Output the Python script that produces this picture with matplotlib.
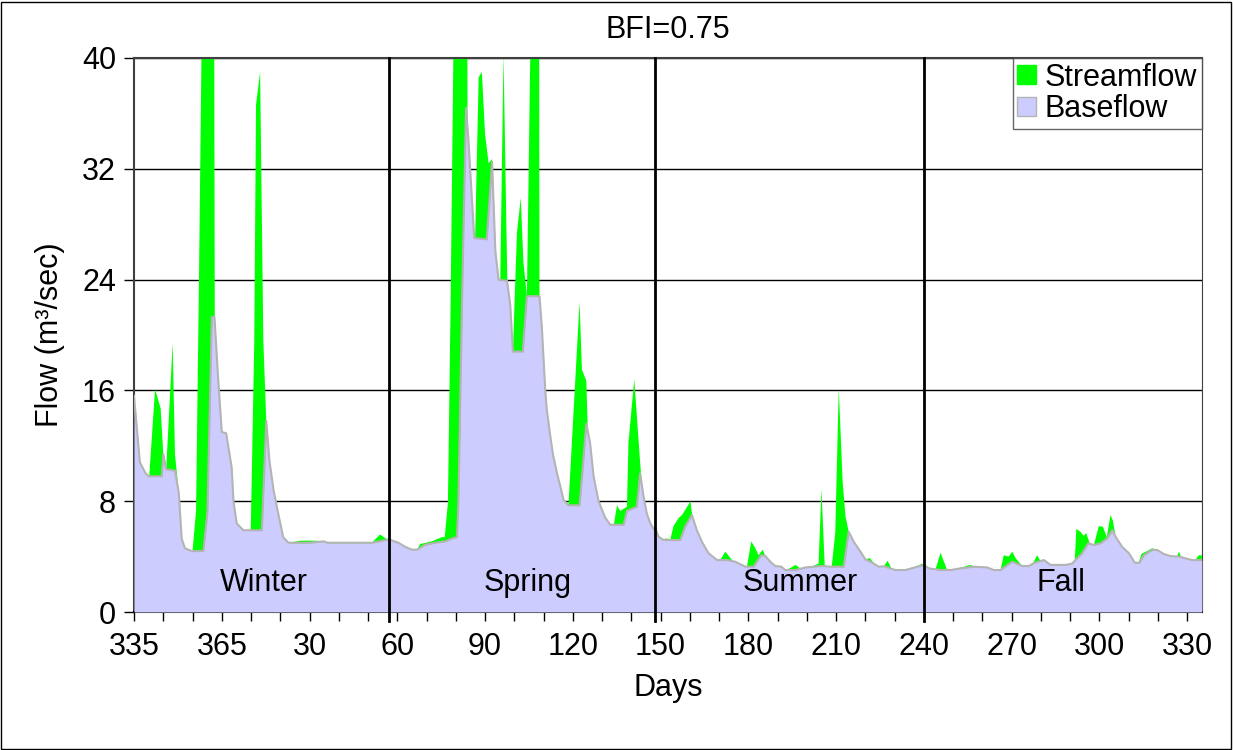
import matplotlib
matplotlib.use("Agg")
import matplotlib.pyplot as plt
from matplotlib.patches import Patch, Rectangle

plt.rcParams['font.family'] = ['Liberation Sans', 'DejaVu Sans']

# day index counted from day 335 of the previous year (0 = day 335)
base_day = [0, 2, 4, 5, 9.5, 10, 11, 14, 15.3, 16.3, 17.4, 19.7, 23.7, 25.1, 26.6, 27.5, 28.8, 30,
            31.5, 33.4, 34, 35.1, 37.4, 43.7, 45.2, 46.3, 47.7, 49.4, 51, 52.8, 60, 65, 66, 81.3, 84, 87,
            90.4, 92.7, 95, 96.7, 99.5, 103, 106.4, 108.6, 110.4, 110.9, 112.1, 113.5, 114.3, 116.3,
            120.6, 122.4, 123.5, 124.6, 127.5, 128.6, 129.5, 132.9, 134.3, 138.6, 139.4, 140.6, 141.1,
            142.3, 143.2, 144.6, 145.7, 146.8, 148.5, 152.3, 153.7, 154.6, 155.9, 157.1, 158.8, 161.1,
            162.8, 167.4, 168.5, 171.9, 173, 174.2, 175.3, 176.5, 177.6,
            178.2, 179.3, 181, 186.7, 188.4, 190.7, 192.4, 194.1, 196.4, 199.3, 202.7, 205.5, 209,
            211.8, 214.4, 215.8, 217.5, 219.2, 221.3, 222.6, 226.1, 229.5, 235.2, 238, 242.6, 244.3,
            246, 248.3, 250, 251.7, 254.6, 256.3, 260.3, 263.7, 267.7, 270,
            271.7, 275.7, 279.1, 282.5, 287.1, 291.6, 293.9, 296.2, 300.2, 303.6, 305.9, 308, 311,
            313.3, 318.4, 320.7, 321.8, 324.1, 326.2, 328.1, 330.4, 332.7, 334.4, 335.5, 337.8, 340.1,
            342.1, 343.7, 345.2, 348, 349.8, 352, 354.3, 357.2, 359.5, 361.7, 365]
base_flow = [15.6, 10.8, 10.0, 9.8, 9.8, 11.4, 10.3, 10.2, 8.6, 5.3, 4.6, 4.4, 4.4, 7.2, 21.3, 21.3, 16.7, 13.0,
             12.9, 10.4, 8.0, 6.4, 5.9, 5.9, 13.8, 10.9, 8.8, 7.0, 5.4, 5.0, 5.0, 5.1, 5.0, 5.0, 5.1, 5.25,
             5.0, 4.7, 4.5, 4.5, 4.85, 5.0, 5.1, 5.3, 5.4, 7.9, 22.2, 36.4, 34.1, 27.0,
             26.9, 32.5, 26.1, 24.0, 23.9, 22.2, 18.8, 18.8, 22.8, 22.8, 20.6, 15.9, 14.6,
             12.7, 11.4, 10.0, 9.1, 8.1, 7.7, 7.7, 11.2, 13.6, 12.2, 9.8, 8.0, 6.8,
             6.3, 6.3, 7.3, 7.6, 10.0, 8.3, 7.1, 6.4, 6.0,
             6.04, 5.44, 5.2, 5.2, 6.16, 7.0, 5.9, 5.08, 4.24, 3.75, 3.75, 3.63, 3.27,
             3.27, 4.1, 4.04, 3.63, 3.32, 3.27, 3.03, 3.03, 3.22, 3.32, 3.27, 3.27, 5.8,
             5.08, 4.36, 3.8, 3.63, 3.27, 3.3, 3.03, 3.03, 3.27, 3.39,
             3.15, 3.03, 3.03, 3.15, 3.27, 3.22, 3.03, 3.03, 3.63, 3.32, 3.32, 3.56, 3.75,
             3.4, 3.4, 3.5, 3.75, 4.24, 4.96, 4.84, 4.96, 5.32, 5.92, 5.44, 4.7, 4.24,
             3.56, 3.56, 4.1, 4.48, 4.48, 4.19, 4.04, 4.0, 3.87, 3.75, 3.75]

stream_day = [0, 2, 4, 5.2, 7.2, 9.1, 10, 11, 13.2, 14, 15.3, 16.3, 17.4, 20, 21.2, 22.2, 23.1, 24, 27, 27.6,
              28.8, 30, 31.5, 33.4, 34, 35.1, 37.4, 39.9, 41.1, 41.7, 43.1, 44.2, 45.2, 46.3, 47.7, 49.4,
              51, 52.8, 57, 62, 65, 66, 81.3, 84.1, 86.5,
              90.4, 92.7, 95, 96.7, 97.8, 101.8, 105.2, 106.2, 107.3, 108.2, 109.2, 110, 113.5, 114.0,
              114.3, 116.3, 116.6, 117.8, 118.9, 120.0, 121.2, 122.3, 123.5, 124.6, 125.2, 126.3, 127.6,
              128.6, 129.5, 130.9, 132.2, 133.1, 134.3, 135.5, 136, 138.2, 138.6, 139.4, 140.6, 141.1,
              142.3, 143.2, 144.6, 145.7, 146.8, 148.5, 152.3, 153.1, 154.6, 155.1, 155.9, 157.1, 158.8,
              161.1, 162.8, 164, 165.1, 166.2, 168.5, 169, 171, 173, 173.3, 174.2, 175.3, 176.5, 177.6,
              178.2, 179.3, 181, 181.4, 182.6, 183.3, 184.4, 186.2, 187.3, 188.8, 190.2, 190.8, 192.4,
              194.1, 196.4, 199.3, 200.4, 202.1, 204.6, 205.5, 209, 209.5, 211, 212.4, 213.5, 214.9,
              215.8, 217.5, 219.2, 221.3, 222.6, 223.2, 226.1, 228.1, 229.5, 232, 234, 235, 236.1, 237,
              238.5, 239.7, 240.9, 242.2, 243.2, 244.3, 246, 248.3, 250, 251.5, 252.5, 254.6, 256.3,
              257.6, 259, 260.3, 263.7, 267.7, 269.4, 271.7,
              274, 275.7, 277.9, 279.1, 282.5, 285.9, 287.1, 291.6, 293.9, 296.2, 297.3, 299, 300.2,
              301.3, 303.6, 305.9, 307.5, 308.7, 309.8, 311, 313.3, 318.4, 320.7, 321.6, 322.1, 323.5,
              324.6, 325.5, 326.6, 328.1, 329.8, 331.2, 332.5, 333.8, 334.6, 335.6, 337.8, 340.1, 342.1,
              343.5, 344.4, 346.3, 348, 349.8, 351.5, 354.3, 356.5, 357.2, 358, 359.5, 361.7, 362.7,
              364, 365]
stream_flow = [15.6, 10.8, 10.0, 9.8, 16.1, 14.7, 11.4, 10.3, 19.4, 11.4, 8.6, 5.3, 4.6, 4.4, 7.3, 24, 41, 80, 90, 21.3,
               16.7, 13.0, 12.9, 10.4, 8.0, 6.4, 5.9, 5.9, 19.5, 36.6, 39.0, 19.6, 13.8, 10.9, 8.8, 7.0,
               5.4, 5.0, 5.15, 5.15, 5.1, 5.0, 5.0, 5.6, 5.25,
               5.0, 4.7, 4.5, 4.5, 4.9, 5.1, 5.4, 5.4, 7.9, 22, 41, 90, 90, 36.0,
               34.1, 27.0, 27.0, 38.6, 39.0, 34.5, 32.4, 32.7, 26.1, 24.0, 24.0, 40.3, 23.9,
               22.2, 18.8, 27.4, 29.9, 25.3, 22.8, 41, 90, 90, 22.8, 20.6, 15.9, 14.6,
               12.7, 11.4, 10.0, 9.1, 8.1, 7.7, 22.4, 17.5, 16.7, 13.3, 12.2, 9.8, 8.0,
               6.8, 6.3, 6.3, 7.7, 7.3, 7.6, 12.2, 16.8, 10.8, 10.0, 8.3, 7.1, 6.4, 6.0,
               6.04, 5.44, 5.2, 5.3, 5.3, 5.2, 6.2, 6.8, 7.0, 7.5, 8.0, 7.0, 5.9,
               5.08, 4.24, 3.75, 3.75, 4.36, 3.7, 3.63, 3.27, 3.27, 5.1, 4.6, 4.1, 4.5,
               4.04, 3.63, 3.32, 3.27, 3.03, 3.03, 3.4, 3.1, 3.22, 3.3, 3.5, 8.9, 3.35, 3.3,
               3.3, 5.7, 16.2, 9.5, 6.9, 5.8, 5.08, 4.36, 3.8, 3.9, 3.63, 3.27, 3.3,
               3.7, 3.1, 3.03, 3.03, 3.3, 3.5, 3.15,
               3.1, 4.28, 3.05, 3.03, 3.2, 3.4, 3.3, 3.22, 3.03, 3.03, 4.1, 4.0, 4.36,
               3.9, 3.32, 3.32, 3.6, 4.1, 3.7, 3.75, 3.4, 3.4, 3.5, 3.8, 6.0, 5.8,
               5.5, 5.7, 5.0, 4.84, 6.2, 6.16, 5.4, 7.0, 6.6, 5.4, 4.7, 4.24, 3.56,
               3.6, 4.2, 4.4, 4.6, 4.5, 4.2, 4.04, 4.0, 4.36, 3.95, 3.87, 3.75, 3.75,
               4.1, 4.1]

tick_pos = list(range(0, 361, 30))
tick_labels = ['335', '365', '30', '60', '90', '120', '150', '180', '210', '240', '270', '300', '330']
season_bounds = [87, 178, 270]
seasons = ['Winter', 'Spring', 'Summer', 'Fall']
season_x = [44.4, 134.7, 227.8, 317]

fig = plt.figure(figsize=(12.33, 7.5), dpi=100)
ax = fig.add_axes([0.1087, 0.184, 0.866, 0.7387])

ax.fill_between(stream_day, 0, stream_flow, color='#00ff00', lw=0, zorder=2)
ax.fill_between(base_day, 0, base_flow, color='#ccccff', lw=0, zorder=3)
ax.plot(base_day, base_flow, color='#b4b4b4', lw=1.5, zorder=3)

for b in season_bounds:
    ax.axvline(b, ymin=-0.016, color='black', lw=2, zorder=4, clip_on=False)
for name, x in zip(seasons, season_x):
    ax.text(x, 2.1, name, ha='center', va='center', fontsize=22, zorder=5)

ax.set_xlim(0, 365)
ax.set_ylim(0, 40)
ax.set_xticks(tick_pos)
ax.set_xticklabels(tick_labels)
ax.set_xticks(range(0, 361, 10), minor=True)
ax.set_yticks(range(0, 41, 8))
ax.tick_params(axis='both', which='both', direction='out', labelsize=22, width=1)
ax.tick_params(axis='x', which='both', length=6.5, pad=8)
ax.tick_params(axis='y', length=7, pad=6)

ax.yaxis.grid(True, color='black', lw=1)
ax.set_axisbelow(True)
for side in ['left', 'top']:
    ax.spines[side].set_color('#404040')
    ax.spines[side].set_linewidth(1.5)
ax.spines['bottom'].set_linewidth(1.5)
ax.spines['right'].set_color('#404040')
ax.spines['right'].set_linewidth(0.8)

ax.set_xlabel('Days', fontsize=22, labelpad=8)
ax.set_ylabel('Flow (m³/sec)', fontsize=22, labelpad=12)
fig.text(668 / 1233, 1 - 30 / 750, 'BFI=0.75', ha='center', va='center', fontsize=22)

handles = [Patch(facecolor='#00ff00', edgecolor='#00ff00', label='Streamflow'),
           Patch(facecolor='#ccccff', edgecolor='#b4b4b4', label='Baseflow')]
leg = ax.legend(handles=handles, loc='upper right', fontsize=22, frameon=True, fancybox=False,
                borderaxespad=0, borderpad=0.15, handlelength=0.6, handleheight=0.6,
                handletextpad=0.3, labelspacing=0.05)
leg.get_frame().set_edgecolor('#404040')
leg.get_frame().set_linewidth(1)
leg.set_zorder(6)

fig.patches.append(Rectangle((0.001, 0.001), 0.997, 0.997, transform=fig.transFigure,
                             fill=False, edgecolor='black', lw=1))

fig.savefig('out.png', dpi=100)
